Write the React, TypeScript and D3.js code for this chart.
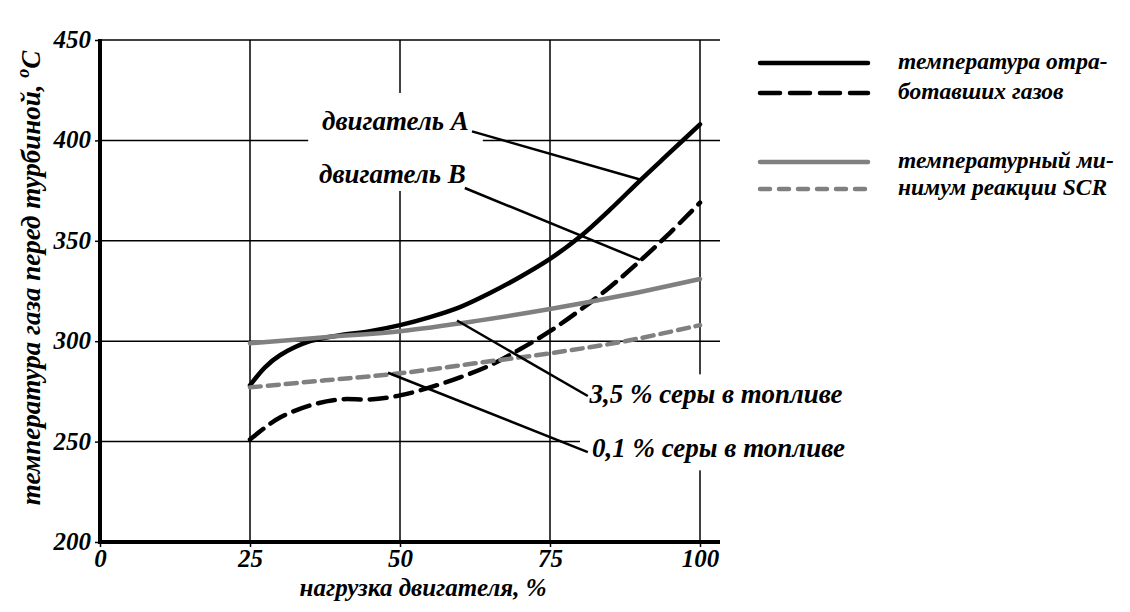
import { useEffect, useRef } from 'react'
import * as d3 from 'd3'

const loadTicks = [0, 25, 50, 75, 100]
const tempTicks = [200, 250, 300, 350, 400, 450]

const engineLoads = [25, 27.5, 30, 35, 40, 45, 50, 55, 60, 65, 70, 75, 80, 85, 90, 95, 100]
const engineA = [278, 287, 293, 300, 303, 305, 308, 312, 317, 324, 332, 341, 352, 365.5, 380, 394, 408]
const engineB = [251, 257, 262, 268, 271, 271, 273, 277, 282, 288, 296, 305, 315.5, 327, 340, 354, 369]

const scrLoads = [25, 37.5, 50, 62.5, 75, 87.5, 100]
const scrHighSulfur = [299, 302, 305, 310, 316, 323, 331]
const scrLowSulfur = [277, 280.5, 284, 289, 294, 300, 308]

const legendLines = ['температура отра-', 'ботавших газов', 'температурный ми-', 'нимум реакции SCR']

type Callout = { text: string; at: [number, number]; from: [number, number]; to: [number, number] }

const callouts: Callout[] = [
  { text: 'двигатель A', at: [37, 405], from: [62, 404.5], to: [90, 380.5] },
  { text: 'двигатель B', at: [36.5, 379], from: [60.8, 376.3], to: [90, 340.5] },
  { text: '3,5 % серы в топливе', at: [81.6, 269.2], from: [59.5, 310.3], to: [81.3, 272.7] },
  { text: '0,1 % серы в топливе', at: [82, 242.4], from: [48, 284.3], to: [81.3, 244.8] },
]

const W = 1130
const H = 612
const FONT = '"Liberation Serif", "Times New Roman", serif'

export default function App() {
  const svgRef = useRef<SVGSVGElement | null>(null)

  useEffect(() => {
    if (!svgRef.current) return
    const svg = d3.select(svgRef.current)
    svg.selectAll('*').remove()

    const x = d3.scaleLinear().domain([0, 100]).range([100, 700])
    const y = d3.scaleLinear().domain([200, 450]).range([542, 40])
    const gridEnd = x(100) + 20

    svg.append('rect').attr('width', W).attr('height', H).attr('fill', '#fff')

    // grid
    const grid = svg.append('g').attr('stroke', '#000').attr('stroke-width', 1.5)
    tempTicks.filter(t => t > 200).forEach(t => {
      grid.append('line').attr('x1', x(0)).attr('x2', gridEnd).attr('y1', y(t)).attr('y2', y(t))
    })
    loadTicks.filter(t => t > 0).forEach(t => {
      grid.append('line').attr('x1', x(t)).attr('x2', x(t)).attr('y1', y(450)).attr('y2', y(200))
    })

    // white boxes behind callout labels
    svg.append('rect')
      .attr('x', x(34.7)).attr('y', y(423.6))
      .attr('width', x(63.8) - x(34.7)).attr('height', y(374.8) - y(423.6))
      .attr('fill', '#fff')
    svg.append('rect')
      .attr('x', x(80)).attr('y', y(283.5))
      .attr('width', x(125) - x(80)).attr('height', y(235.7) - y(283.5))
      .attr('fill', '#fff')

    // axes
    const yAxis = svg.append('g')
      .attr('transform', `translate(${x(0)},0)`)
      .call(d3.axisLeft(y).tickValues(tempTicks).tickSize(5).tickSizeOuter(0))
    const xAxis = svg.append('g')
      .attr('transform', `translate(0,${y(200)})`)
      .call(d3.axisBottom(x).tickValues(loadTicks).tickSize(5).tickSizeOuter(0))
    ;[yAxis, xAxis].forEach(a => {
      a.select('.domain').remove()
      a.selectAll('line').attr('stroke-width', 1.5)
      a.selectAll('text')
        .attr('font-family', FONT)
        .attr('font-style', 'italic')
        .attr('font-weight', 'bold')
        .attr('font-size', 25)
        .attr('fill', '#000')
    })
    yAxis.selectAll('text').attr('x', -9).attr('dy', '0.3em')
    xAxis.selectAll('text').attr('y', 7).attr('dy', '0.72em')

    svg.append('line')
      .attr('x1', x(0)).attr('x2', x(0)).attr('y1', y(450) - 1).attr('y2', y(200) + 2)
      .attr('stroke', '#000').attr('stroke-width', 4)
    svg.append('line')
      .attr('x1', x(0) - 2).attr('x2', gridEnd).attr('y1', y(200)).attr('y2', y(200))
      .attr('stroke', '#000').attr('stroke-width', 4)

    // curves
    const line = d3.line<[number, number]>()
      .x(d => x(d[0]))
      .y(d => y(d[1]))
      .curve(d3.curveCatmullRom.alpha(0.5))

    const series = [
      { pts: engineLoads.map((l, i) => [l, engineA[i]] as [number, number]), color: '#000', dash: null },
      { pts: engineLoads.map((l, i) => [l, engineB[i]] as [number, number]), color: '#000', dash: '17,9' },
      { pts: scrLoads.map((l, i) => [l, scrHighSulfur[i]] as [number, number]), color: '#808080', dash: null },
      { pts: scrLoads.map((l, i) => [l, scrLowSulfur[i]] as [number, number]), color: '#808080', dash: '11,7' },
    ]
    series.forEach(s => {
      svg.append('path')
        .datum(s.pts)
        .attr('fill', 'none')
        .attr('stroke', s.color)
        .attr('stroke-width', 4.5)
        .attr('stroke-linecap', 'round')
        .attr('stroke-dasharray', s.dash)
        .attr('d', line)
    })

    // callouts
    callouts.forEach(c => {
      svg.append('line')
        .attr('x1', x(c.from[0])).attr('y1', y(c.from[1]))
        .attr('x2', x(c.to[0])).attr('y2', y(c.to[1]))
        .attr('stroke', '#000').attr('stroke-width', 2.5)
      svg.append('text')
        .attr('x', x(c.at[0])).attr('y', y(c.at[1]))
        .attr('font-family', FONT).attr('font-style', 'italic').attr('font-weight', 'bold')
        .attr('font-size', 27)
        .text(c.text)
    })

    // legend
    const legendRows = [
      { y: 63, color: '#000', dash: null },
      { y: 93, color: '#000', dash: '20,10' },
      { y: 162, color: '#808080', dash: null },
      { y: 189, color: '#808080', dash: '10,9' },
    ]
    legendRows.forEach((r, i) => {
      svg.append('line')
        .attr('x1', 760).attr('x2', 868).attr('y1', r.y).attr('y2', r.y)
        .attr('stroke', r.color).attr('stroke-width', 4.5)
        .attr('stroke-linecap', 'round')
        .attr('stroke-dasharray', r.dash)
      svg.append('text')
        .attr('x', 898).attr('y', r.y + 6)
        .attr('font-family', FONT).attr('font-style', 'italic').attr('font-weight', 'bold')
        .attr('font-size', 23.5)
        .text(legendLines[i])
    })

    // axis titles
    svg.append('text')
      .attr('x', 423).attr('y', 596)
      .attr('text-anchor', 'middle')
      .attr('font-family', FONT).attr('font-style', 'italic').attr('font-weight', 'bold')
      .attr('font-size', 25)
      .text('нагрузка двигателя, %')

    const yTitle = svg.append('text')
      .attr('transform', `translate(40,278) rotate(-90)`)
      .attr('text-anchor', 'middle')
      .attr('font-family', FONT).attr('font-style', 'italic').attr('font-weight', 'bold')
      .attr('font-size', 27)
    yTitle.append('tspan').text('температура газа перед турбиной, ')
    yTitle.append('tspan').attr('font-size', 18).attr('dy', -11).text('o')
    yTitle.append('tspan').attr('dy', 11).text('C')
  }, [])

  return (
    <svg
      ref={svgRef}
      width={W}
      height={H}
      style={{ position: 'absolute', left: 0, top: 0, display: 'block' }}
    />
  )
}
